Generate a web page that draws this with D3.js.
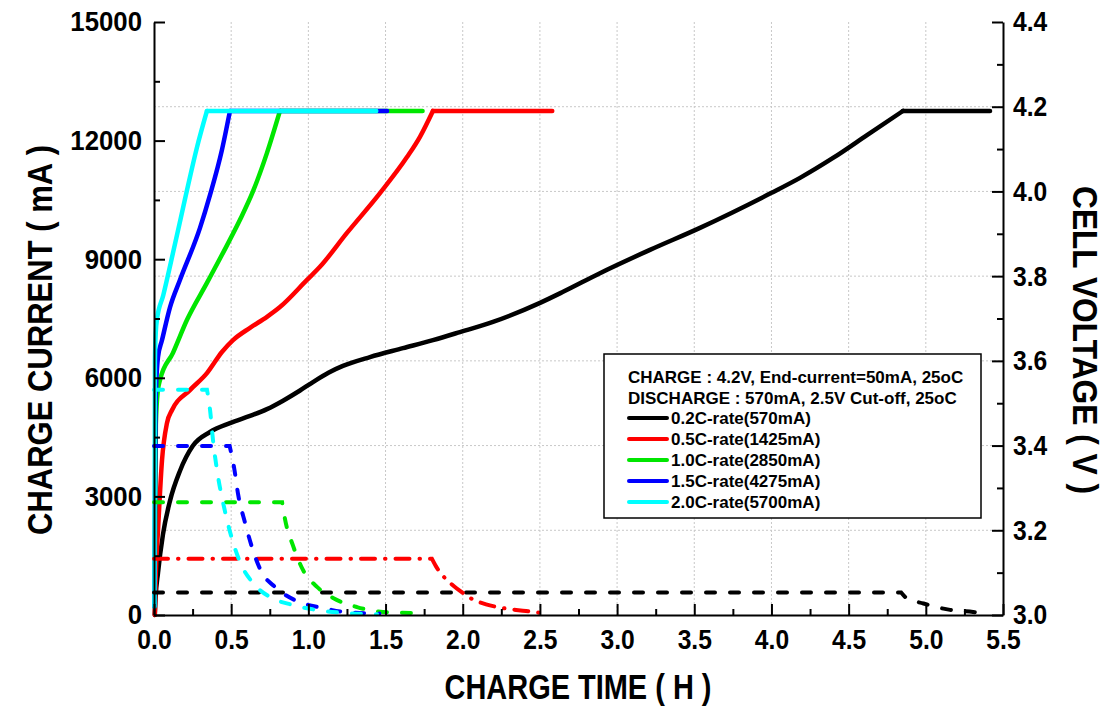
<!DOCTYPE html>
<html lang="en">
<head>
  <meta charset="UTF-8">
  <title>Charge characteristics</title>
  <script src="https://d3js.org/d3.v7.min.js"></script>
  <style>
    body { margin: 0; background: #fff; }
    .axis text {
      font-family: "Liberation Sans", Arial, sans-serif;
      font-weight: bold;
      font-size: 28px;
      fill: #000;
    }
    .axis path, .axis line { stroke: #000; stroke-width: 2; }
    .gridlines line { stroke: #c8c8c8; stroke-width: 1; stroke-dasharray: 2,2; }
    .title {
      font-family: "Liberation Sans", Arial, sans-serif;
      font-weight: bold;
      font-size: 35px;
    }
    .legend text {
      font-family: "Liberation Sans", Arial, sans-serif;
      font-weight: bold;
      font-size: 17px;
    }
  </style>
</head>

<body>
  <svg id="chart" width="1115" height="706"></svg>

  <script>
    // tick values
    const timeTicks = [0, 0.5, 1, 1.5, 2, 2.5, 3, 3.5, 4, 4.5, 5, 5.5];
    const currentTicks = [0, 3000, 6000, 9000, 12000, 15000];
    const voltageTicks = [3.0, 3.2, 3.4, 3.6, 3.8, 4.0, 4.2, 4.4];

    const legendHeader = ["CHARGE : 4.2V, End-current=50mA, 25oC", "DISCHARGE : 570mA, 2.5V Cut-off, 25oC"];
    const rates = ["0.2C-rate(570mA)", "0.5C-rate(1425mA)", "1.0C-rate(2850mA)", "1.5C-rate(4275mA)", "2.0C-rate(5700mA)"];

    // cell voltage [hours, V]
    const voltage02 = [[0.005,3.00],[0.01,3.04],[0.026,3.10],[0.058,3.19],[0.104,3.27],[0.168,3.34],[0.253,3.40],[0.363,3.432],[0.492,3.453],[0.622,3.47],[0.732,3.486],[0.836,3.506],[0.946,3.53],[1.03,3.55],[1.13,3.572],[1.224,3.588],[1.399,3.609],[1.613,3.63],[1.807,3.649],[1.982,3.668],[2.196,3.692],[2.501,3.737],[2.65,3.763],[2.889,3.807],[3.213,3.862],[3.537,3.914],[3.997,3.996],[4.185,4.032],[4.399,4.079],[4.619,4.133],[4.852,4.19],[5.416,4.19]];
    const voltage05 = [[0.005,3.00],[0.012,3.10],[0.026,3.20],[0.052,3.366],[0.084,3.453],[0.117,3.484],[0.233,3.531],[0.343,3.571],[0.44,3.621],[0.512,3.649],[0.622,3.678],[0.732,3.704],[0.816,3.727],[0.991,3.791],[1.075,3.822],[1.25,3.902],[1.464,3.996],[1.639,4.081],[1.723,4.129],[1.807,4.19],[2.58,4.19]];
    const voltage10 = [[0.003,3.02],[0.012,3.45],[0.025,3.53],[0.039,3.555],[0.123,3.619],[0.214,3.697],[0.343,3.784],[0.447,3.855],[0.557,3.933],[0.641,4.0],[0.732,4.091],[0.816,4.19],[1.74,4.19]];
    const voltage15 = [[0.003,3.02],[0.01,3.5],[0.026,3.609],[0.052,3.649],[0.104,3.727],[0.168,3.791],[0.298,3.914],[0.363,3.992],[0.44,4.098],[0.492,4.19],[1.51,4.19]];
    const voltage20 = [[0.003,3.02],[0.006,3.6],[0.012,3.67],[0.019,3.697],[0.06,3.755],[0.125,3.858],[0.207,3.992],[0.277,4.102],[0.343,4.19],[1.44,4.19]];

    // charge current [hours, mA]
    const current02 = [[0,570],[4.84,570],[4.875,430],[4.985,290],[5.157,130],[5.306,76],[5.345,55]];
    const current05 = [[0,1425],[1.80,1425],[1.827,1230],[1.87,1000],[1.93,770],[2.0,560],[2.067,390],[2.151,270],[2.261,175],[2.41,100],[2.52,45]];
    const current10 = [[0,2850],[0.83,2850],[0.85,2400],[0.90,1760],[0.965,1140],[1.056,710],[1.16,430],[1.315,200],[1.484,75],[1.71,50]];
    const current15 = [[0,4275],[0.49,4275],[0.52,3700],[0.545,3050],[0.59,2330],[0.64,1650],[0.69,1140],[0.79,690],[0.94,330],[1.09,180],[1.27,60],[1.46,40]];
    const current20 = [[0,5700],[0.343,5700],[0.363,5190],[0.382,4430],[0.408,3670],[0.46,2620],[0.505,1930],[0.557,1340],[0.641,810],[0.751,455],[0.90,253],[1.056,126],[1.224,55],[1.445,20]];

    const voltages = [voltage02, voltage05, voltage10, voltage15, voltage20];
    const currents = [current02, current05, current10, current15, current20];
    const colors = ["#000000", "#ff0000", "#00e600", "#0000ff", "#00ffff"];
    const dashes = ["9,15", "14,10,0.5,10", "9,15", "9,15", "9,15"];

    const svg = d3.select("#chart");
    const margins = { top: 22, right: 112, bottom: 91, left: 154 };
    const width = +svg.attr("width");
    const height = +svg.attr("height");
    const chartWidth = width - margins.left - margins.right;
    const chartHeight = height - margins.top - margins.bottom;

    const xScale = d3.scaleLinear().domain([0, 5.5]).range([0, chartWidth]);
    const yCurrent = d3.scaleLinear().domain([0, 15000]).range([chartHeight, 0]);
    const yVoltage = d3.scaleLinear().domain([3.0, 4.4]).range([chartHeight, 0]);

    const chartArea = svg.append("g").attr("transform", `translate(${margins.left},${margins.top})`);

    // squeeze text horizontally, the original uses a narrow bold face
    function narrow(sel, k) {
      sel.each(function() {
        const w = this.getComputedTextLength();
        if (w > 0) {
          d3.select(this).attr("textLength", w * k).attr("lengthAdjust", "spacingAndGlyphs");
        }
      });
    }

    // dotted grid: vertical every 0.5 h, horizontal on the voltage ticks
    const grid = chartArea.append("g").attr("class", "gridlines");
    grid.selectAll("line.v").data(timeTicks.slice(1, -1))
      .join("line").attr("class", "v")
      .attr("x1", d => xScale(d)).attr("x2", d => xScale(d))
      .attr("y1", 0).attr("y2", chartHeight);
    grid.selectAll("line.h").data(voltageTicks.slice(1, -1))
      .join("line").attr("class", "h")
      .attr("x1", 0).attr("x2", chartWidth)
      .attr("y1", d => yVoltage(d)).attr("y2", d => yVoltage(d));

    // voltage curves (solid): smooth rise, then a straight 4.2V plateau
    const voltCurve = d3.line().x(d => xScale(d[0])).y(d => yVoltage(d[1])).curve(d3.curveMonotoneX);
    const voltFlat = d3.line().x(d => xScale(d[0])).y(d => yVoltage(d[1]));
    voltages.forEach((series, i) => {
      const g = chartArea.append("g")
        .attr("fill", "none")
        .attr("stroke", colors[i])
        .attr("stroke-width", 4.5)
        .attr("stroke-linejoin", "round")
        .attr("stroke-linecap", "round");
      g.append("path").attr("d", voltCurve(series.slice(0, -1)));
      g.append("path").attr("d", voltFlat(series.slice(-2)));
    });

    // current curves (dashed): constant current, then taper, as one path so the dashes run on
    const currLine = d3.line().x(d => xScale(d[0])).y(d => yCurrent(d[1]));
    const currCurve = d3.line().x(d => xScale(d[0])).y(d => yCurrent(d[1])).curve(d3.curveMonotoneX);
    currents.forEach((series, i) => {
      const flat = currLine(series.slice(0, 2));
      const taper = currCurve(series.slice(1)).replace(/^M[^CL]*/, "");
      chartArea.append("path")
        .attr("d", flat + taper)
        .attr("fill", "none")
        .attr("stroke", colors[i])
        .attr("stroke-width", 4)
        .attr("stroke-dasharray", dashes[i])
        .attr("stroke-linecap", "round");
    });

    // axes, ticks pointing inwards
    const minor = (lo, hi, step) => d3.range(lo, hi + step / 2, step);

    chartArea.append("g").attr("class", "axis")
      .attr("transform", `translate(0,${chartHeight})`)
      .call(d3.axisBottom(xScale).tickValues(timeTicks).tickFormat(d3.format(".1f"))
        .tickSizeInner(-11).tickSizeOuter(0).tickPadding(14))
      .selectAll("text").call(narrow, 0.88);
    chartArea.append("g").attr("class", "axis")
      .attr("transform", `translate(0,${chartHeight})`)
      .call(d3.axisBottom(xScale).tickValues(minor(0.25, 5.25, 0.5)).tickFormat("")
        .tickSizeInner(-6).tickSizeOuter(0))
      .select(".domain").remove();

    chartArea.append("g").attr("class", "axis")
      .call(d3.axisLeft(yCurrent).tickValues(currentTicks).tickFormat(d3.format("d"))
        .tickSizeInner(-11).tickSizeOuter(0).tickPadding(12))
      .selectAll("text").call(narrow, 0.92);
    chartArea.append("g").attr("class", "axis")
      .call(d3.axisLeft(yCurrent).tickValues(minor(1500, 13500, 3000)).tickFormat("")
        .tickSizeInner(-6).tickSizeOuter(0))
      .select(".domain").remove();

    chartArea.append("g").attr("class", "axis")
      .attr("transform", `translate(${chartWidth},0)`)
      .call(d3.axisRight(yVoltage).tickValues(voltageTicks).tickFormat(d3.format(".1f"))
        .tickSizeInner(-11).tickSizeOuter(0).tickPadding(10))
      .selectAll("text").call(narrow, 0.88);
    chartArea.append("g").attr("class", "axis")
      .attr("transform", `translate(${chartWidth},0)`)
      .call(d3.axisRight(yVoltage).tickValues(minor(3.1, 4.3, 0.2)).tickFormat("")
        .tickSizeInner(-6).tickSizeOuter(0))
      .select(".domain").remove();

    // axis titles
    svg.append("text").attr("class", "title")
      .attr("transform", `translate(52,340) rotate(-90)`)
      .attr("text-anchor", "middle")
      .attr("textLength", 390).attr("lengthAdjust", "spacingAndGlyphs")
      .text("CHARGE CURRENT ( mA )");
    svg.append("text").attr("class", "title")
      .attr("transform", `translate(1073,340) rotate(90)`)
      .attr("text-anchor", "middle")
      .attr("textLength", 308).attr("lengthAdjust", "spacingAndGlyphs")
      .text("CELL VOLTAGE ( V )");
    svg.append("text").attr("class", "title")
      .attr("x", 578).attr("y", 699)
      .attr("text-anchor", "middle")
      .attr("textLength", 267).attr("lengthAdjust", "spacingAndGlyphs")
      .text("CHARGE TIME ( H )");

    // legend
    const legend = svg.append("g").attr("class", "legend").attr("transform", "translate(604,354)");
    legend.append("rect")
      .attr("width", 377).attr("height", 164)
      .attr("fill", "#fff").attr("stroke", "#000").attr("stroke-width", 1.5);
    legend.selectAll("text.head").data(legendHeader)
      .join("text").attr("class", "head")
      .attr("x", 24).attr("y", (d, i) => 29 + i * 20.5)
      .text(d => d);
    const entries = legend.selectAll("g.entry").data(rates)
      .join("g").attr("class", "entry")
      .attr("transform", (d, i) => `translate(0,${64 + i * 21})`);
    entries.append("line")
      .attr("x1", 25).attr("x2", 63)
      .attr("stroke", (d, i) => colors[i])
      .attr("stroke-width", 4).attr("stroke-linecap", "round");
    entries.append("text")
      .attr("x", 67).attr("y", 6)
      .text(d => d);
  </script>
</body>
</html>
